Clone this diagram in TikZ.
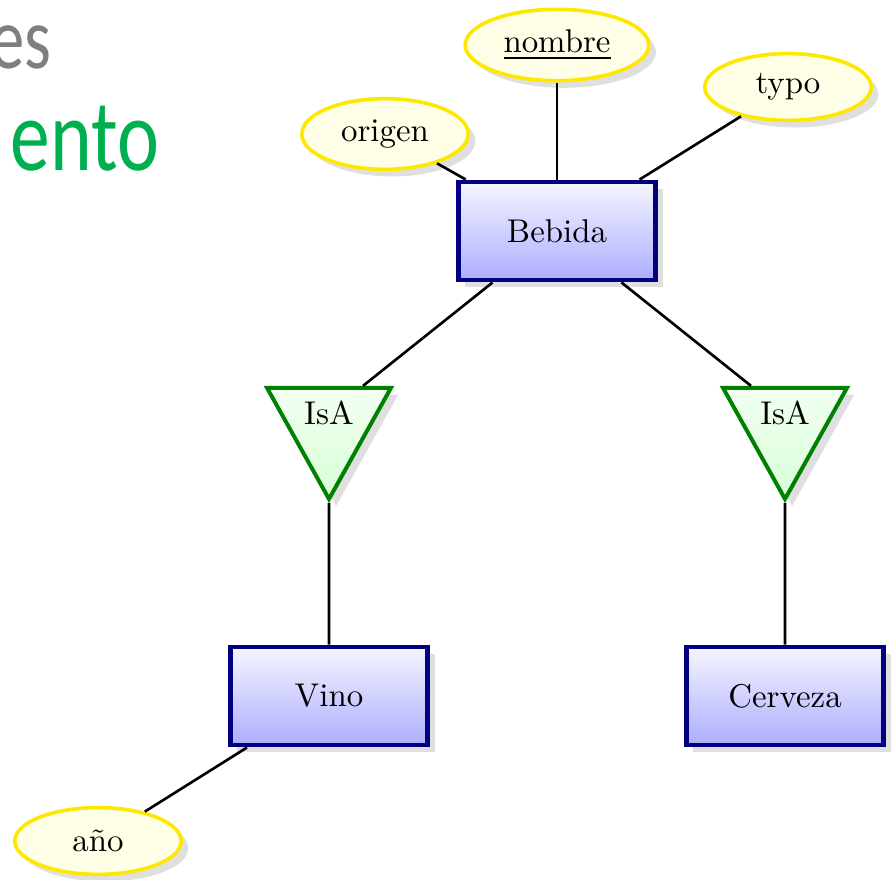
\documentclass[tikz,border=0pt]{standalone}
\usepackage{fontspec}
\newfontfamily\slidefont{Carlito}
\usetikzlibrary{shapes.geometric,shadows}
\definecolor{entblue}{RGB}{0,0,128}
\definecolor{attyellow}{RGB}{255,232,0}
\definecolor{isagreen}{RGB}{0,128,0}
\definecolor{slidegray}{RGB}{127,127,127}
\definecolor{slidegreen}{RGB}{0,176,80}
\tikzset{
  entity/.style={rectangle, draw=entblue, line width=1.5pt, top color=blue!4, bottom color=blue!32,
    minimum width=60pt, minimum height=29.8pt, drop shadow={opacity=0.25}},
  attr/.style={ellipse, draw=attyellow, line width=1.1pt, fill=yellow!10,
    minimum width=50.6pt, minimum height=20.3pt, inner sep=1pt, drop shadow={opacity=0.25}},
  isa/.style={isosceles triangle, isosceles triangle apex angle=60, isosceles triangle stretches,
    shape border rotate=270, draw=isagreen, line width=1.2pt, top color=green!5, bottom color=green!16,
    minimum width=37.7pt, minimum height=33.8pt, inner sep=1pt, drop shadow={opacity=0.25}},
  link/.style={draw=black, line width=0.8pt},
  slidetext/.style={inner sep=0pt, font=\slidefont}
}
\begin{document}
\begin{tikzpicture}[x=0.304pt, y=-0.304pt]
\useasboundingbox (0,0) rectangle (893,879);
% slide text fragments
\node[slidetext, anchor=base east, text=slidegray, font=\slidefont\fontsize{26.8pt}{30pt}\selectfont] (es) at (52,68) {\scalebox{0.78}[1]{es}};
\node[slidetext, anchor=base east, text=slidegreen, font=\slidefont\fontsize{31pt}{34pt}\selectfont] (ento) at (160,170) {\scalebox{0.78}[1]{ento}};
% entities
\node[entity] (bebida) at (557,231) {Bebida};
\node[entity] (vino) at (329,696) {Vino};
\node[entity] (cerveza) at (785,696) {Cerveza};
% attributes
\node[attr, minimum width=55.8pt, minimum height=21.7pt] (nombre) at (557,45) {\underline{nombre}};
\node[attr, minimum height=21.5pt] (origen) at (385,134) {origen};
\node[attr] (typo) at (788,87) {typo};
\node[attr] (ano) at (98,841) {año};
% isa
\node[isa] (isaL) at (329,413) {IsA};
\node[isa] (isaR) at (785,413) {IsA};
% connectors
\draw[link] (origen) -- (bebida);
\draw[link] (nombre) -- (bebida);
\draw[link] (typo) -- (bebida);
\draw[link] (bebida) -- (isaL);
\draw[link] (bebida) -- (isaR);
\draw[link] (isaL) -- (vino);
\draw[link] (isaR) -- (cerveza);
\draw[link] (vino) -- (ano);
\end{tikzpicture}
\end{document}
